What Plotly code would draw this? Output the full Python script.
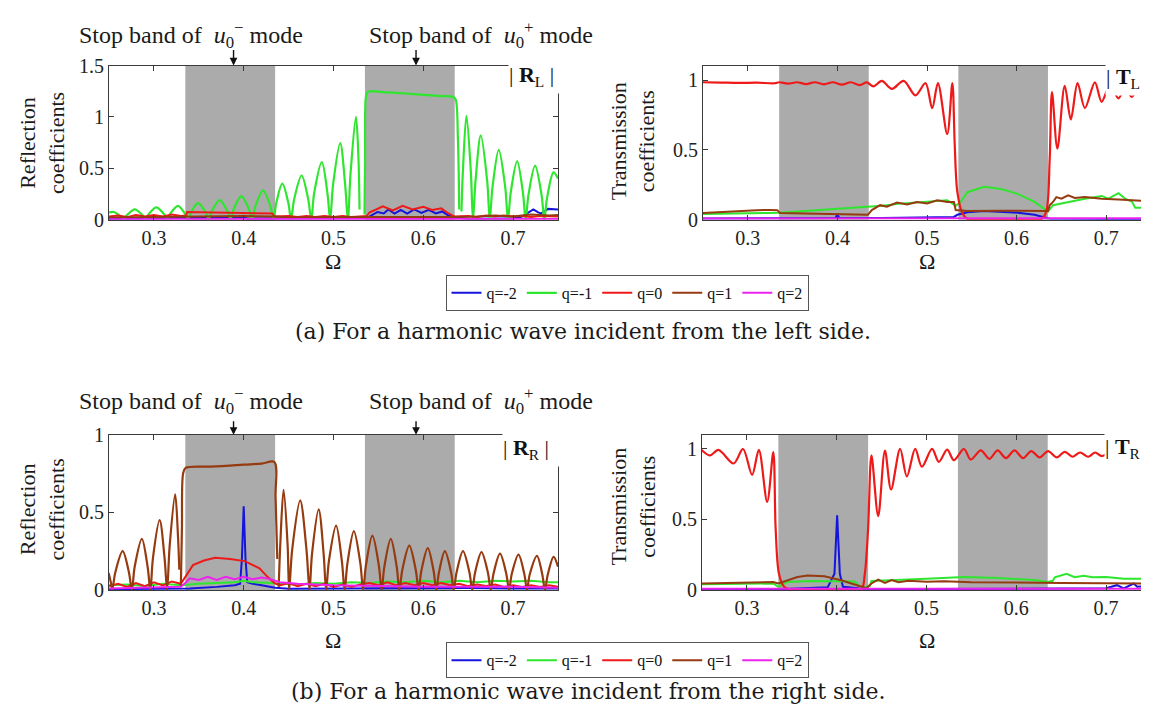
import plotly.graph_objects as go

# ---------------- data ----------------
OMEGA_TICKS = [0.3, 0.4, 0.5, 0.6, 0.7]
STOP_BANDS = [(0.335, 0.435), (0.535, 0.635)]
SERIES_NAMES = ["q=-2", "q=-1", "q=0", "q=1", "q=2"]
COLORS = ["#1414dc", "#2ee62e", "#ee1a1a", "#963a10", "#ee22ee"]

# (a) |R_L|
RL_qm2 = [(0.25,0.01),(0.30,0.012),(0.335,0.015),(0.40,0.02),(0.405,0.01),(0.435,0.012),(0.50,0.01),
          (0.535,0.015),(0.540,0.03),(0.549,0.075),(0.556,0.06),(0.561,0.10),(0.568,0.06),(0.575,0.095),
          (0.582,0.06),(0.590,0.10),(0.598,0.065),(0.606,0.095),(0.614,0.06),(0.621,0.08),(0.628,0.04),
          (0.635,0.02),(0.65,0.01),(0.70,0.012),(0.71,0.03),(0.714,0.05),(0.7225,0.10),(0.728,0.07),
          (0.731,0.06),(0.739,0.105),(0.745,0.10),(0.75,0.10)]
RL_qm1 = [(0.250,0.070),(0.2555,0.075),(0.2625,0.035),(0.2666,0.012),
          (0.2702,0.046),(0.2786,0.100),(0.2871,0.046),(0.2907,0.012),
          (0.2943,0.055),(0.3027,0.120),(0.3112,0.055),(0.3148,0.010),
          (0.3184,0.061),(0.3268,0.135),(0.3344,0.061),(0.3380,0.010),
          (0.3415,0.073),(0.3490,0.160),(0.3575,0.073),(0.3610,0.008),
          (0.3646,0.086),(0.3733,0.190),(0.3817,0.086),(0.3853,0.005),
          (0.3889,0.104),(0.3973,0.230),(0.4058,0.104),(0.4094,0.003),
          (0.4130,0.130),(0.4215,0.286),(0.4297,0.130),(0.4333,0.0),
          (0.4362,0.159),(0.4430,0.350),(0.4498,0.159),(0.4527,0.0),
          (0.4561,0.195),(0.4645,0.430),(0.4719,0.195),(0.4753,0.0),
          (0.4784,0.254),(0.4870,0.560),(0.4933,0.254),(0.4963,0.0),
          (0.4995,0.338),(0.5075,0.745),(0.5130,0.338),(0.5160,0.0),
          (0.5190,0.450),(0.5250,1.000),(0.5278,0.600),(0.5290,0.100),(None,None),
          (0.5345,0.05),(0.5352,0.60),(0.5362,1.20),(0.5384,1.245),(0.560,1.238),(0.580,1.228),
          (0.600,1.215),(0.620,1.203),(0.633,1.195),(0.6360,1.17),(0.6385,0.80),(0.6400,0.10),(None,None),
          (0.6425,0.08),(0.6440,0.45),(0.6480,1.010),(0.6530,0.46),(0.6553,0.0),
          (0.6581,0.37),(0.6640,0.820),(0.6712,0.37),(0.6740,0.0),
          (0.6770,0.31),(0.6840,0.680),(0.6913,0.31),(0.6943,0.0),
          (0.6973,0.26),(0.7045,0.570),(0.7110,0.26),(0.7140,0.0),
          (0.7171,0.24),(0.7245,0.525),(0.7317,0.24),(0.7348,0.0),
          (0.7378,0.21),(0.7450,0.460),(0.7500,0.40)]
RL_q0 = [(0.25,0.03),(0.26,0.04),(0.27,0.025),(0.28,0.045),(0.29,0.03),(0.30,0.045),(0.31,0.03),(0.32,0.05),
         (0.33,0.035),(0.336,0.04),(0.337,0.075),(0.36,0.072),(0.38,0.07),(0.40,0.066),(0.42,0.062),(0.432,0.06),
         (0.434,0.03),(0.45,0.035),(0.46,0.025),(0.47,0.035),(0.48,0.025),(0.49,0.035),(0.50,0.025),(0.51,0.035),
         (0.52,0.025),(0.53,0.03),(0.537,0.035),(0.540,0.07),(0.547,0.10),(0.555,0.13),(0.566,0.09),(0.577,0.135),
         (0.588,0.10),(0.60,0.125),(0.61,0.095),(0.62,0.11),(0.628,0.06),(0.635,0.03),(0.65,0.035),(0.66,0.025),
         (0.67,0.04),(0.68,0.03),(0.69,0.04),(0.70,0.03),(0.71,0.035),(0.72,0.025),(0.73,0.035),(0.74,0.03),(0.75,0.03)]
RL_q1 = [(0.25,0.02),(0.30,0.025),(0.335,0.03),(0.40,0.035),(0.435,0.03),(0.45,0.02),(0.50,0.025),(0.535,0.025),
         (0.60,0.02),(0.635,0.025),(0.66,0.03),(0.68,0.04),(0.70,0.03),(0.72,0.05),(0.74,0.04),(0.75,0.045)]
RL_q2 = [(0.25,0.005),(0.40,0.006),(0.55,0.005),(0.75,0.006)]

# (a) |T_L|
TL_qm2 = [(0.25,0.008),(0.30,0.01),(0.35,0.012),(0.398,0.012),(0.40,0.04),(0.402,0.012),(0.45,0.012),(0.50,0.015),
          (0.52,0.02),(0.530,0.02),(0.5339,0.035),(0.5451,0.053),(0.5638,0.0625),(0.5826,0.058),(0.6013,0.05),
          (0.62,0.035),(0.6331,0.015),(0.6369,0.007),(0.70,0.005),(0.75,0.0)]
TL_qm1 = [(0.25,0.04),(0.28,0.045),(0.30,0.05),(0.32,0.048),(0.335,0.05),(0.36,0.06),(0.38,0.068),(0.40,0.075),
          (0.42,0.085),(0.4328,0.093),(0.45,0.10),(0.47,0.115),(0.49,0.125),(0.51,0.132),(0.5226,0.139),
          (0.532,0.10),(0.5376,0.128),(0.5451,0.197),(0.5638,0.236),(0.5826,0.22),(0.6013,0.185),(0.6200,0.127),
          (0.6313,0.07),(0.635,0.058),(0.6406,0.104),(0.6575,0.127),(0.6762,0.15),(0.6949,0.17),(0.7024,0.15),
          (0.7137,0.19),(0.7211,0.15),(0.7286,0.13),(0.7324,0.085),(0.75,0.085)]
TL_q0 = [(0.25,0.985),(0.27,0.983),(0.29,0.98),(0.31,0.982),(0.33,0.978),(0.335,0.985),(0.345,0.975),(0.355,0.985),
         (0.365,0.972),(0.375,0.985),(0.385,0.97),(0.395,0.985),(0.405,0.968),(0.415,0.985),(0.425,0.965),
         (0.4328,0.984),(0.4402,0.956),(0.4496,0.995),(0.4608,0.9375),(0.4740,0.995),(0.4871,0.891),(0.4983,0.979),
         (0.5058,0.799),(0.5122,0.979),(0.5226,0.613),(0.5283,0.979),(0.5309,0.544),(0.5339,0.197),(0.5395,0.046),
         (0.5451,0.005),(0.56,0.0),(0.58,0.0),(0.60,0.0),(0.62,0.0),(0.6275,0.005),(0.6331,0.058),(0.6369,0.428),
         (0.6395,0.914),(0.6455,0.509),(0.6537,0.960),(0.6605,0.718),(0.6680,0.979),(0.6762,0.800),(0.6874,0.984),
         (0.6949,0.845),(0.7043,0.965),(0.7137,0.87),(0.7211,0.95),(0.7286,0.88),(0.7361,0.96),(0.7455,0.90),(0.75,0.92)]
TL_q1 = [(0.25,0.047),(0.27,0.055),(0.29,0.062),(0.31,0.068),(0.325,0.07),(0.333,0.068),(0.336,0.047),(0.36,0.045),
         (0.40,0.04),(0.434,0.035),(0.4384,0.069),(0.4477,0.104),(0.4552,0.093),(0.4665,0.123),(0.4777,0.109),
         (0.4889,0.127),(0.5002,0.116),(0.5114,0.139),(0.5226,0.127),(0.5301,0.127),(0.532,0.069),(0.5451,0.0625),
         (0.5826,0.064),(0.635,0.0625),(0.6369,0.104),(0.6406,0.127),(0.6444,0.162),(0.65,0.15),(0.6575,0.174),
         (0.665,0.155),(0.6762,0.162),(0.6949,0.15),(0.7137,0.145),(0.75,0.132)]
TL_q2 = [(0.25,0.008),(0.45,0.009),(0.60,0.008),(0.75,0.01)]

# (b) |R_R|
RR_qm2 = [(0.25,0.005),(0.30,0.008),(0.34,0.01),(0.37,0.02),(0.39,0.03),(0.396,0.04),(0.398,0.2),(0.400,0.54),
          (0.402,0.2),(0.404,0.05),(0.41,0.04),(0.42,0.03),(0.435,0.015),(0.45,0.008),(0.50,0.01),(0.55,0.012),
          (0.60,0.01),(0.65,0.012),(0.70,0.01),(0.75,0.01)]
RR_qm1 = [(0.25,0.03),(0.27,0.035),(0.29,0.025),(0.31,0.04),(0.33,0.03),(0.35,0.04),(0.37,0.045),(0.39,0.05),
          (0.40,0.06),(0.41,0.05),(0.43,0.045),(0.44,0.04),(0.46,0.035),(0.48,0.045),(0.50,0.04),(0.52,0.05),
          (0.54,0.045),(0.56,0.055),(0.58,0.05),(0.60,0.06),(0.62,0.05),(0.64,0.06),(0.66,0.05),(0.68,0.06),
          (0.70,0.055),(0.72,0.06),(0.74,0.05),(0.75,0.05)]
RR_q0 = [(0.25,0.025),(0.26,0.04),(0.27,0.02),(0.28,0.045),(0.29,0.025),(0.30,0.05),(0.31,0.03),(0.32,0.055),
         (0.33,0.04),(0.3353,0.088),(0.3435,0.16),(0.3558,0.19),(0.3682,0.207),(0.3847,0.20),(0.4011,0.186),
         (0.4176,0.14),(0.4259,0.088),(0.4341,0.046),(0.44,0.03),(0.45,0.045),(0.46,0.025),(0.47,0.04),(0.48,0.025),
         (0.49,0.04),(0.50,0.02),(0.51,0.035),(0.52,0.02),(0.53,0.035),(0.54,0.045),(0.55,0.03),(0.56,0.05),
         (0.57,0.03),(0.58,0.045),(0.59,0.03),(0.60,0.045),(0.61,0.03),(0.62,0.045),(0.63,0.03),(0.64,0.04),
         (0.65,0.025),(0.66,0.035),(0.67,0.025),(0.68,0.035),(0.69,0.02),(0.70,0.03),(0.71,0.02),(0.72,0.03),
         (0.73,0.02),(0.74,0.03),(0.75,0.02)]
RR_q1 = [(0.2496,0.11),(0.2520,0.05),(0.2537,0.005),
         (0.2570,0.113),(0.2652,0.250),(0.2722,0.113),(0.2755,0.0),
         (0.2786,0.150),(0.2866,0.330),(0.2930,0.150),(0.2961,0.0),
         (0.2989,0.204),(0.3064,0.450),(0.3119,0.204),(0.3147,0.0),
         (0.3175,0.280),(0.3237,0.616),(0.3268,0.350),(0.3283,0.130),(None,None),
         (0.3300,0.02),(0.3312,0.40),(0.3325,0.75),(0.3353,0.787),(0.36,0.795),(0.38,0.800),(0.40,0.808),
         (0.42,0.815),(0.4341,0.825),(0.4355,0.60),(0.4374,0.20),(None,None),
         (0.4390,0.02),(0.4407,0.29),(0.4444,0.645),(0.4489,0.29),(0.4506,0.0),
         (0.4540,0.26),(0.4629,0.578),(0.4699,0.26),(0.4733,0.0),
         (0.4761,0.234),(0.4835,0.520),(0.4890,0.234),(0.4918,0.0),
         (0.4949,0.187),(0.5029,0.415),(0.5093,0.187),(0.5124,0.0),
         (0.5155,0.171),(0.5227,0.380),(0.5299,0.171),(0.5330,0.0),
         (0.5361,0.158),(0.5433,0.350),(0.5505,0.158),(0.5536,0.0),
         (0.5566,0.149),(0.5638,0.330),(0.5704,0.149),(0.5734,0.0),
         (0.5766,0.129),(0.5844,0.286),(0.5916,0.129),(0.5948,0.0),
         (0.5978,0.122),(0.6050,0.270),(0.6115,0.122),(0.6145,0.0),
         (0.6174,0.112),(0.6240,0.250),(0.6310,0.112),(0.6339,0.0),
         (0.6370,0.112),(0.6442,0.250),(0.6514,0.112),(0.6545,0.0),
         (0.6576,0.110),(0.6648,0.244),(0.6720,0.110),(0.6751,0.0),
         (0.6782,0.105),(0.6854,0.234),(0.6924,0.105),(0.6955,0.0),
         (0.6985,0.103),(0.7060,0.228),(0.7125,0.103),(0.7155,0.0),
         (0.7185,0.100),(0.7266,0.220),(0.7325,0.100),(0.7355,0.0),
         (0.7385,0.096),(0.7451,0.213),(0.7500,0.150)]
RR_q2 = [(0.25,0.01),(0.30,0.015),(0.33,0.02),(0.335,0.045),(0.34,0.075),(0.35,0.065),(0.36,0.085),(0.37,0.065),
         (0.38,0.085),(0.39,0.07),(0.40,0.085),(0.41,0.07),(0.42,0.08),(0.43,0.07),(0.435,0.06),(0.44,0.05),
         (0.46,0.04),(0.50,0.03),(0.55,0.025),(0.60,0.02),(0.70,0.02),(0.75,0.015)]

# (b) |T_R|
TR_qm2 = [(0.25,0.007),(0.335,0.005),(0.39,0.02),(0.3975,0.115),(0.4005,0.529),(0.4035,0.115),(0.407,0.023),
          (0.435,0.005),(0.50,0.007),(0.65,0.007),(0.70,0.012),(0.7121,0.034),(0.7196,0.011),(0.7308,0.046),
          (0.7346,0.023),(0.75,0.028)]
TR_qm1 = [(0.25,0.04),(0.30,0.045),(0.3294,0.046),(0.335,0.023),(0.345,0.057),(0.37,0.064),(0.40,0.064),(0.42,0.06),
          (0.4275,0.01),(0.437,0.03),(0.4387,0.064),(0.4687,0.074),(0.50,0.08),(0.5417,0.092),(0.58,0.085),
          (0.62,0.07),(0.635,0.057),(0.6406,0.065),(0.6429,0.09),(0.6560,0.115),(0.665,0.09),(0.675,0.10),
          (0.685,0.09),(0.70,0.092),(0.72,0.08),(0.75,0.08)]
TR_q0 = [(0.2496,0.993),(0.259,0.954),(0.2683,0.993),(0.2852,0.897),(0.2957,1.0),(0.3058,0.816),(0.3133,0.993),
         (0.3226,0.625),(0.3294,0.977),(0.332,0.437),(0.3357,0.115),(0.3414,0.023),(0.3489,0.002),(0.37,0.0),
         (0.39,0.0),(0.41,0.0),(0.4275,0.005),(0.4313,0.115),(0.435,0.437),(0.4387,0.954),(0.4462,0.524),
         (0.4537,0.989),(0.4605,0.713),(0.4706,1.0),(0.4781,0.805),(0.4874,1.0),(0.4949,0.874),(0.5062,1.0),
         (0.5137,0.908),(0.523,0.995),(0.5305,0.92),(0.5417,1.0),(0.5492,0.925),(0.5605,0.99),(0.5700,0.93),
         (0.5792,0.99),(0.5885,0.935),(0.598,0.99),(0.6075,0.935),(0.6167,0.985),(0.626,0.94),(0.6354,0.985),
         (0.645,0.94),(0.6541,0.98),(0.6625,0.945),(0.671,0.975),(0.680,0.945),(0.6878,0.975),(0.695,0.95),
         (0.701,0.965)]
TR_q1 = [(0.25,0.046),(0.28,0.05),(0.31,0.055),(0.3294,0.057),(0.335,0.046),(0.3563,0.092),(0.3676,0.103),
         (0.3863,0.097),(0.405,0.069),(0.4275,0.023),(0.4331,0.012),(0.4387,0.046),(0.4462,0.073),(0.4537,0.05),
         (0.4612,0.07),(0.4687,0.055),(0.48,0.065),(0.50,0.058),(0.52,0.062),(0.55,0.055),(0.60,0.05),(0.65,0.05),
         (0.70,0.048),(0.75,0.046)]
TR_q2 = [(0.25,0.008),(0.45,0.008),(0.60,0.008),(0.75,0.009)]

PANELS = [
    dict(series=[RL_qm2, RL_qm1, RL_q0, RL_q1, RL_q2], smooth=[False, True, False, False, False],
         yrange=[0, 1.5], yticks=[0, 0.5, 1, 1.5], legend="legend", showlegend=True),
    dict(series=[TL_qm2, TL_qm1, TL_q0, TL_q1, TL_q2], smooth=[False, False, True, False, False],
         yrange=[0, 1.105], yticks=[0, 0.5, 1], legend="legend", showlegend=False),
    dict(series=[RR_qm2, RR_qm1, RR_q0, RR_q1, RR_q2], smooth=[False, False, False, True, False],
         yrange=[0, 1.0], yticks=[0, 0.5, 1], legend="legend2", showlegend=True),
    dict(series=[TR_qm2, TR_qm1, TR_q0, TR_q1, TR_q2], smooth=[False, False, True, False, False],
         yrange=[0, 1.1], yticks=[0, 0.5, 1], legend="legend2", showlegend=False),
]

# ---------------- layout geometry ----------------
W, H = 1149, 719
def px_x(p): return p / W
def px_y(p): return 1 - p / H

XDOM = [[px_x(101), px_x(550)], [px_x(695), px_x(1143)], [px_x(101), px_x(550)], [px_x(694), px_x(1143)]]
YDOM = [[px_y(207), px_y(48)], [px_y(207), px_y(48)], [px_y(589), px_y(429)], [px_y(589), px_y(429)]]

SERIF = "Liberation Serif"
fig = go.Figure()

for i, panel in enumerate(PANELS):
    ax = "" if i == 0 else str(i + 1)
    for k, pts in enumerate(panel["series"]):
        xs = [p[0] for p in pts]
        ys = [p[1] for p in pts]
        fig.add_trace(go.Scatter(
            x=xs, y=ys, mode="lines", name=SERIES_NAMES[k],
            line=dict(color=COLORS[k], width=2.2 if panel["smooth"][k] else 2,
                      shape="spline" if panel["smooth"][k] else "linear", smoothing=0.9),
            xaxis="x" + ax, yaxis="y" + ax,
            showlegend=panel["showlegend"], legend=panel["legend"], hoverinfo="skip"))
    axis_common = dict(showline=True, linecolor="#3a3a3a", linewidth=1, mirror="ticks",
                       ticks="inside", ticklen=5, tickcolor="#3a3a3a", showgrid=False, zeroline=False,
                       tickfont=dict(family=SERIF, size=20, color="#222"))
    fig.update_layout(**{
        "xaxis" + ax: dict(domain=XDOM[i], range=[0.25, 0.75], tickvals=OMEGA_TICKS,
                           anchor="y" + ax, **axis_common),
        "yaxis" + ax: dict(domain=YDOM[i], range=panel["yrange"], tickvals=panel["yticks"],
                           anchor="x" + ax, **axis_common),
    })
    for (a, b) in STOP_BANDS:
        fig.add_shape(type="rect", xref="x" + ax, yref="y" + ax + " domain", x0=a, x1=b, y0=0, y1=1,
                      fillcolor="#ababab", line=dict(width=0), layer="below")

def text_ann(xc, yc, txt, size, family=SERIF, angle=0):
    return dict(x=px_x(xc), y=px_y(yc), xref="paper", yref="paper", text=txt, showarrow=False,
                xanchor="center", yanchor="middle", textangle=angle,
                font=dict(family=family, size=size, color="#1a1a1a"))

annotations = []
# y axis titles
for (xc, yc, txt) in [(34, 128, "Reflection<br>coefficients"), (34, 506, "Reflection<br>coefficients"),
                      (625, 126, "Transmission<br>coefficients"), (625, 503, "Transmission<br>coefficients")]:
    annotations.append(text_ann(xc, yc, txt, 22, angle=-90))
# x axis titles
for (xc, yc) in [(325, 250), (919, 250), (325, 641), (919, 641)]:
    annotations.append(text_ann(xc, yc, "Ω", 22))
# stop band labels + arrows
for (yc, axn) in [(16, ""), (394, "3")]:
    annotations.append(text_ann(183, yc, "Stop band of  <i>u</i><sub>0</sub><sup>−</sup> mode", 24))
    annotations.append(text_ann(473, yc, "Stop band of  <i>u</i><sub>0</sub><sup>+</sup> mode", 24))
    for xa in (0.3887, 0.5919):
        annotations.append(dict(x=xa, y=1, xref="x" + axn, yref="y" + axn + " domain", text="",
                                showarrow=True, ax=0, ay=-17 if axn == "" else -15, arrowhead=2,
                                arrowsize=1.1, arrowwidth=1.4, arrowcolor="#111"))
# |R|, |T| labels
for (x0, y0, sym, sub, w) in [(500, 40, "R", "L", 62), (1097, 42, "T", "L", 52),
                              (494, 425, "R", "R", 66), (1096, 424, "T", "R", 53)]:
    annotations.append(dict(x=px_x(x0), y=px_y(y0), xref="paper", yref="paper", xanchor="left", yanchor="top",
                            text="| <b>%s</b><sub>%s</sub> |" % (sym, sub), showarrow=False, bgcolor="white",
                            width=w, height=34, align="left", borderpad=0,
                            font=dict(family=SERIF, size=22, color="#111")))
# captions
annotations.append(text_ann(575, 322, "(a) For a harmonic wave incident from the left side.", 22, "DejaVu Serif"))
annotations.append(text_ann(580, 694, "(b) For a harmonic wave incident from the right side.", 22, "DejaVu Serif"))

legend_common = dict(orientation="h", xanchor="center", yanchor="top", bgcolor="white",
                     bordercolor="#555", borderwidth=1, itemwidth=30, tracegroupgap=0,
                     font=dict(family=SERIF, size=16, color="#111"))
fig.update_layout(
    width=W, height=H, margin=dict(l=0, r=0, t=0, b=0),
    paper_bgcolor="white", plot_bgcolor="white",
    annotations=annotations,
    legend=dict(x=px_x(619), y=px_y(264), **legend_common),
    legend2=dict(x=px_x(619), y=px_y(643), **legend_common),
)

fig.write_html("out.html")
